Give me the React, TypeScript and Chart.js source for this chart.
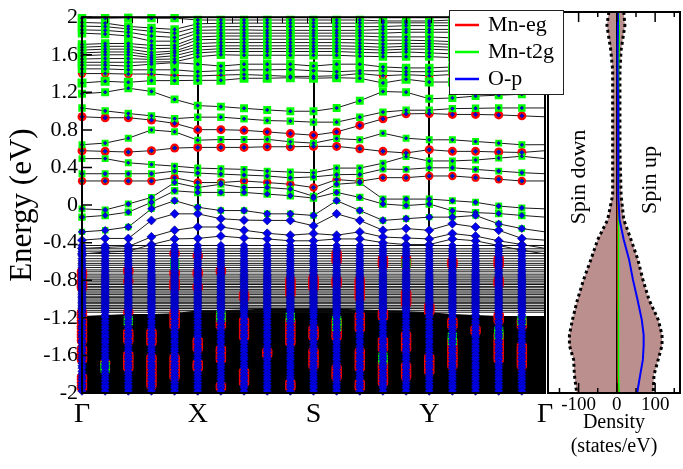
import React, { useEffect, useRef } from "react";
import { Chart, registerables } from "chart.js";

Chart.register(...registerables);

const SERIF = '"Liberation Serif", "Times New Roman", "DejaVu Serif", serif';
Chart.defaults.font.family = SERIF;
Chart.defaults.color = "#000";

const RED = "#ff0000";
const GREEN = "#00ff00";
const BLUE = "#0000ff";
const DOS_FILL = "rgb(188,143,143)";

// k-path Γ–X–S–Y–Γ sampled at 21 k-points, high-symmetry points every 5th
const kLabels = ["Γ", "X", "S", "Y", "Γ"];
const symK = [0, 5, 10, 15, 20];
const kPoints = [0, 1, 2, 3, 4, 5, 6, 7, 8, 9, 10, 11, 12, 13, 14, 15, 16, 17, 18, 19, 20];
// orbital projections exist for the first 20 k-points
const projK = [0, 1, 2, 3, 4, 5, 6, 7, 8, 9, 10, 11, 12, 13, 14, 15, 16, 17, 18, 19];

// dispersive bands (eV):   Γ→X          |   X→S          |   S→Y          |   Y→Γ          | Γ
const bands: number[][] = [
  [1.99, 1.99, 1.995, 1.99, 1.99, 1.97, 1.97, 1.97, 1.97, 1.97, 1.97, 1.97, 1.97, 1.96, 1.96, 1.96, 1.97, 1.98, 1.99, 1.99, 1.99],
  [1.944, 1.937, 1.902, 1.885, 1.87, 1.93, 1.935, 1.937, 1.937, 1.937, 1.937, 1.937, 1.937, 1.94, 1.94, 1.94, 1.94, 1.94, 1.945, 1.945, 1.944],
  [1.905, 1.9, 1.875, 1.85, 1.83, 1.895, 1.9, 1.9, 1.9, 1.9, 1.9, 1.9, 1.9, 1.9, 1.91, 1.91, 1.91, 1.9, 1.9, 1.905, 1.905],
  [1.865, 1.86, 1.84, 1.8, 1.785, 1.86, 1.865, 1.865, 1.86, 1.86, 1.86, 1.86, 1.86, 1.87, 1.87, 1.87, 1.87, 1.87, 1.865, 1.865, 1.865],
  [1.83, 1.82, 1.8, 1.745, 1.745, 1.83, 1.83, 1.83, 1.83, 1.83, 1.83, 1.83, 1.83, 1.83, 1.84, 1.84, 1.84, 1.84, 1.83, 1.83, 1.83],
  [1.71, 1.72, 1.72, 1.7, 1.7, 1.79, 1.8, 1.8, 1.8, 1.8, 1.8, 1.8, 1.8, 1.79, 1.79, 1.79, 1.78, 1.77, 1.75, 1.73, 1.71],
  [1.68, 1.69, 1.69, 1.665, 1.67, 1.76, 1.765, 1.765, 1.765, 1.765, 1.765, 1.765, 1.76, 1.755, 1.755, 1.75, 1.74, 1.73, 1.715, 1.7, 1.68],
  [1.65, 1.66, 1.66, 1.625, 1.64, 1.72, 1.73, 1.73, 1.73, 1.73, 1.73, 1.73, 1.725, 1.715, 1.72, 1.72, 1.71, 1.7, 1.68, 1.67, 1.65],
  [1.62, 1.63, 1.63, 1.595, 1.62, 1.685, 1.695, 1.695, 1.695, 1.695, 1.695, 1.695, 1.69, 1.68, 1.69, 1.69, 1.68, 1.67, 1.65, 1.64, 1.62],
  [1.59, 1.6, 1.6, 1.57, 1.59, 1.65, 1.665, 1.665, 1.665, 1.665, 1.665, 1.665, 1.66, 1.65, 1.66, 1.66, 1.65, 1.64, 1.62, 1.61, 1.59],
  [1.555, 1.56, 1.56, 1.55, 1.555, 1.62, 1.635, 1.635, 1.635, 1.635, 1.635, 1.635, 1.625, 1.62, 1.63, 1.62, 1.61, 1.6, 1.58, 1.57, 1.555],
  [1.52, 1.52, 1.52, 1.525, 1.525, 1.58, 1.6, 1.595, 1.595, 1.595, 1.595, 1.595, 1.585, 1.58, 1.58, 1.58, 1.57, 1.56, 1.54, 1.53, 1.52],
  [1.49, 1.49, 1.48, 1.5, 1.517, 1.5, 1.48, 1.5, 1.5, 1.5, 1.48, 1.5, 1.5, 1.47, 1.46, 1.46, 1.47, 1.48, 1.48, 1.49, 1.49],
  [1.45, 1.45, 1.44, 1.44, 1.44, 1.42, 1.43, 1.44, 1.44, 1.443, 1.43, 1.42, 1.43, 1.43, 1.42, 1.42, 1.43, 1.44, 1.44, 1.45, 1.45],
  [1.4, 1.4, 1.395, 1.395, 1.38, 1.374, 1.384, 1.39, 1.38, 1.37, 1.37, 1.377, 1.4, 1.377, 1.388, 1.377, 1.39, 1.4, 1.4, 1.4, 1.4],
  [1.3, 1.318, 1.307, 1.325, 1.325, 1.328, 1.328, 1.35, 1.35, 1.356, 1.35, 1.356, 1.35, 1.3, 1.34, 1.31, 1.31, 1.31, 1.3, 1.3, 1.3],
  [1.185, 1.202, 1.244, 1.21, 1.125, 1.059, 1.048, 1.03, 1.013, 0.999, 0.999, 1.034, 1.111, 1.209, 1.202, 1.132, 1.14, 1.16, 1.17, 1.18, 1.185],
  [1.034, 1.003, 0.975, 0.95, 0.92, 0.936, 0.936, 0.918, 0.9, 0.894, 0.883, 0.883, 0.936, 0.99, 1.01, 1.01, 1.027, 1.03, 1.034, 1.034, 1.034],
  [0.94, 0.93, 0.93, 0.905, 0.87, 0.803, 0.803, 0.796, 0.779, 0.761, 0.744, 0.779, 0.848, 0.918, 0.971, 0.975, 0.965, 0.965, 0.96, 0.95, 0.94],
  [0.643, 0.66, 0.712, 0.8, 0.78, 0.691, 0.698, 0.698, 0.7, 0.674, 0.66, 0.708, 0.695, 0.765, 0.712, 0.695, 0.695, 0.677, 0.66, 0.642, 0.643],
  [0.579, 0.572, 0.565, 0.579, 0.607, 0.614, 0.614, 0.614, 0.621, 0.621, 0.625, 0.625, 0.6, 0.572, 0.555, 0.59, 0.572, 0.572, 0.565, 0.56, 0.579],
  [0.495, 0.495, 0.45, 0.432, 0.415, 0.394, 0.387, 0.38, 0.362, 0.352, 0.345, 0.394, 0.394, 0.446, 0.516, 0.47, 0.47, 0.48, 0.5, 0.52, 0.495],
  [0.334, 0.334, 0.334, 0.334, 0.362, 0.341, 0.33, 0.32, 0.31, 0.29, 0.3, 0.324, 0.327, 0.383, 0.38, 0.397, 0.397, 0.38, 0.362, 0.345, 0.334],
  [0.257, 0.257, 0.257, 0.257, 0.292, 0.24, 0.24, 0.257, 0.24, 0.222, 0.187, 0.272, 0.254, 0.292, 0.292, 0.31, 0.31, 0.292, 0.275, 0.257, 0.257],
  [-0.04, -0.051, 0.012, 0.082, 0.24, 0.187, 0.222, 0.187, 0.187, 0.17, 0.095, 0.222, 0.24, 0.064, 0.064, 0.064, 0.047, 0.03, -0.01, -0.03, -0.04],
  [-0.128, -0.11, -0.075, 0.03, 0.152, 0.135, 0.135, 0.135, 0.117, 0.1, 0.075, 0.135, 0.082, 0.012, -0.005, 0.012, -0.06, -0.08, -0.09, -0.11, -0.128],
  [-0.285, -0.268, -0.233, -0.04, 0.047, -0.023, -0.058, -0.058, -0.093, -0.093, -0.11, 0.047, -0.058, -0.163, -0.145, -0.128, -0.128, -0.11, -0.2, -0.25, -0.285],
  [-0.373, -0.355, -0.355, -0.163, -0.093, -0.093, -0.145, -0.16, -0.163, -0.163, -0.22, -0.093, -0.163, -0.268, -0.25, -0.268, -0.198, -0.233, -0.268, -0.355, -0.373],
  [-0.46, -0.45, -0.44, -0.338, -0.268, -0.233, -0.233, -0.268, -0.3, -0.32, -0.303, -0.32, -0.285, -0.34, -0.35, -0.36, -0.303, -0.33, -0.38, -0.42, -0.46],
  [-0.52, -0.5, -0.49, -0.42, -0.36, -0.355, -0.33, -0.35, -0.36, -0.38, -0.38, -0.36, -0.36, -0.4, -0.42, -0.42, -0.36, -0.38, -0.43, -0.48, -0.52],
];

// orbital weight of each band above (0..1)
const bandEg = [0.5, 0, 0, 0, 0, 0.3, 0, 0, 0, 0, 0, 0, 0.3, 0, 0.7, 0.2, 0, 0, 0.75, 0.35, 0.75, 0.25, 0.45, 0.7, 0, 0, 0, 0.2, 0, 0];
const bandT2g = [0.85, 0.85, 0.85, 0.85, 0.85, 0.85, 0.85, 0.85, 0.85, 0.85, 0.85, 0.85, 0.85, 0.85, 0.45, 0.9, 0.8, 0.75, 0.2, 0.7, 0.35, 0.7, 0.7, 0.35, 0.7, 0.75, 0.65, 0.35, 0.2, 0.2];
const bandP = [0.4, 0.4, 0.4, 0.4, 0.4, 0.4, 0.4, 0.4, 0.4, 0.4, 0.4, 0.4, 0.4, 0.4, 0.4, 0.4, 0.4, 0.4, 0.5, 0.4, 0.5, 0.4, 0.5, 0.5, 0.6, 0.65, 0.85, 1, 1, 1];

// nearly flat O-p levels between −0.4 and −1.15 eV
const denseLevels = [
  -0.43, -0.465, -0.49, -0.515, -0.54, -0.57, -0.595, -0.62, -0.64, -0.665, -0.69, -0.71,
  -0.735, -0.755, -0.775, -0.795, -0.81, -0.83, -0.845, -0.865, -0.88, -0.9, -0.915, -0.935,
  -0.95, -0.97, -0.985, -1.0, -1.02, -1.035, -1.05, -1.07, -1.085, -1.1, -1.12, -1.14,
];
// upper edge of the continuous band manifold below −1.1 eV
const manifoldTop = [-1.18, -1.17, -1.16, -1.16, -1.15, -1.12, -1.12, -1.11, -1.1, -1.1, -1.1, -1.1, -1.11, -1.12, -1.13, -1.14, -1.16, -1.17, -1.18, -1.18, -1.18];
// projected levels inside the manifold
const manifoldLevels = [
  -1.17, -1.195, -1.23, -1.255, -1.29, -1.315, -1.35, -1.38, -1.405, -1.44, -1.465, -1.5, -1.53, -1.555,
  -1.59, -1.62, -1.645, -1.68, -1.71, -1.735, -1.77, -1.8, -1.83, -1.855, -1.89, -1.92, -1.945, -1.98,
];
// Mn-eg weight in the manifold: [k-point, upper E, lower E]
const egSpots = [
  [0, -0.71, -0.76], [0, -0.81, -0.88], [0, -1.13, -1.44], [0, -1.51, -1.65], [0, -1.83, -1.95],
  [1, -1.65, -1.7],
  [2, -0.67, -0.71], [2, -0.8, -0.82], [2, -1.13, -1.16], [2, -1.34, -1.44], [2, -1.58, -1.76],
  [3, -1.34, -1.48], [3, -1.62, -1.93],
  [4, -0.5, -0.53], [4, -0.71, -0.74], [4, -0.81, -0.88], [4, -1.13, -1.3], [4, -1.62, -1.83],
  [5, -0.53, -0.55], [5, -0.71, -0.74], [5, -0.85, -0.88], [5, -1.44, -1.55], [5, -1.65, -1.76],
  [6, -0.69, -0.73], [6, -1.16, -1.3], [6, -1.51, -1.65], [6, -1.9, -1.97],
  [7, -0.95, -0.99], [7, -1.2, -1.41], [7, -1.76, -1.9],
  [8, -1.55, -1.6],
  [9, -0.78, -0.95], [9, -1.2, -1.48], [9, -1.86, -1.97],
  [10, -0.76, -0.88], [10, -1.3, -1.41], [10, -1.55, -1.72],
  [11, -0.5, -0.6], [11, -0.78, -0.85], [11, -1.2, -1.41], [11, -1.72, -1.83],
  [12, -0.78, -0.99], [12, -1.16, -1.34], [12, -1.55, -1.76], [12, -1.86, -1.97],
  [13, -0.57, -0.64], [13, -1.13, -1.2], [13, -1.41, -1.55], [13, -1.65, -1.9],
  [14, -0.57, -0.64], [14, -0.92, -1.06], [14, -1.37, -1.55], [14, -1.69, -1.83],
  [15, -1.06, -1.16], [15, -1.62, -1.79],
  [16, -0.59, -0.64], [16, -1.2, -1.3], [16, -1.44, -1.72],
  [17, -1.3, -1.35],
  [18, -0.57, -0.64], [18, -0.78, -0.85], [18, -1.16, -1.23], [18, -1.37, -1.65],
  [19, -1.23, -1.3], [19, -1.48, -1.72],
];
// Mn-t2g weight in the manifold
const t2gSpots = [
  [1, -1.7, -1.75], [2, -1.2, -1.25], [4, -0.62, -0.64], [6, -1.16, -1.2], [9, -1.18, -1.22],
  [11, -1.2, -1.3], [13, -1.6, -1.65], [14, -0.6, -0.62], [16, -1.4, -1.45], [18, -1.35, -1.4], [19, -1.2, -1.25],
];

const legendItems = [
  { label: "Mn-eg", color: RED },
  { label: "Mn-t2g", color: GREEN },
  { label: "O-p", color: BLUE },
];

// density of states (states/eV) on an energy grid
const dosEnergy = [2.0, 1.86, 1.6, 1.39, 1.08, 0.55, 0.08, -0.18, -0.39, -0.6, -0.81, -1.02, -1.23, -1.39, -1.5, -1.65, -1.81, -2.0];
const dosUp = [18, 21, 11, 8, 8, 8, 11, 18, 37, 55, 68, 84, 108, 118, 118, 108, 97, 95];
const dosDown = [-21, -26, -16, -11, -11, -11, -11, -24, -50, -68, -87, -103, -116, -124, -124, -113, -111, -105];
const dosOp = [3, 3, 2, 2, 3, 3, 4, 7, 18, 32, 42, 54, 65, 70, 70, 68, 61, 53];
const dosT2g = [5, 6, 6, 4, 3, 3, 4, 4, 4, 4, 4, 4, 5, 5, 5, 5, 5, 6];
const dosEg = [3, 4, 3, 2, 2, 2, 2, 2, 2, 2, 2, 2, 3, 3, 3, 3, 3, 3];
const dosTicks = [-100, 0, 100];
const dosMinorTicks = [-150, -50, 50, 150];

const TOP_TICK_STEP = 1.0776;

function bandConfig(): any {
  const datasets: any[] = [];
  datasets.push({
    data: kPoints.map((k) => ({ x: k, y: manifoldTop[k] })),
    borderWidth: 0,
    pointRadius: 0,
    fill: "start",
    backgroundColor: "#000",
    order: 100,
  });
  denseLevels.forEach((e) =>
    datasets.push({
      data: [{ x: kPoints[0], y: e }, { x: kPoints[kPoints.length - 1], y: e }],
      borderColor: "#111",
      borderWidth: 1,
      pointRadius: 0,
      fill: false,
      order: 90,
    })
  );
  bands.forEach((b) =>
    datasets.push({
      data: kPoints.map((k) => ({ x: k, y: b[k] })),
      borderColor: "#1a1a1a",
      borderWidth: 1,
      pointRadius: 0,
      fill: false,
      order: 80,
    })
  );

  const egPts: any[] = [];
  const t2gPts: any[] = [];
  const pPts: any[] = [];
  bands.forEach((b, i) =>
    projK.forEach((k) => {
      if (bandEg[i] > 0) egPts.push({ x: k, y: b[k], r: 6 * bandEg[i] });
      if (bandT2g[i] > 0) t2gPts.push({ x: k, y: b[k], r: 7 * bandT2g[i] });
      if (bandP[i] > 0) pPts.push({ x: k, y: b[k], r: 4.5 * bandP[i] });
    })
  );
  const levels = [...denseLevels, ...manifoldLevels];
  projK.forEach((k) => levels.forEach((e) => pPts.push({ x: k, y: e, r: 4.2 })));
  egSpots.forEach(([k, hi, lo]) =>
    levels.forEach((e) => {
      if (e <= hi && e >= lo) egPts.push({ x: k, y: e, r: 5.3 });
    })
  );
  t2gSpots.forEach(([k, hi, lo]) =>
    levels.forEach((e) => {
      if (e <= hi && e >= lo) t2gPts.push({ x: k, y: e, r: 6.5 });
    })
  );

  const markerClip = { left: 7, right: 0, top: 4, bottom: 3 };
  const radius = (c: any) => (c.raw ? c.raw.r : 0);
  datasets.push({
    data: egPts, showLine: false, pointStyle: "circle", pointRadius: radius,
    pointBackgroundColor: RED, pointBorderWidth: 0, clip: markerClip, order: 30,
  });
  datasets.push({
    data: t2gPts, showLine: false, pointStyle: "rect", pointRadius: radius,
    pointBackgroundColor: GREEN, pointBorderWidth: 0, clip: markerClip, order: 20,
  });
  datasets.push({
    data: pPts, showLine: false, pointStyle: "rectRot", pointRadius: radius,
    pointBackgroundColor: "#0000ee", pointBorderColor: "#000080", pointBorderWidth: 0.6,
    clip: markerClip, order: 10,
  });

  const decor = {
    id: "bandDecor",
    afterDatasetsDraw(chart: any) {
      const { ctx, chartArea: a } = chart;
      const xs = chart.scales.x;
      const ys = chart.scales.y;
      ctx.save();
      ctx.strokeStyle = "#000";
      ctx.lineWidth = 1.5;
      ctx.beginPath();
      ys.ticks.forEach((t: any) => {
        const y = ys.getPixelForValue(t.value);
        ctx.moveTo(a.left, y);
        ctx.lineTo(a.left + 10, y);
      });
      ctx.stroke();
      ctx.lineWidth = 1;
      ctx.beginPath();
      for (let v = xs.min; v <= xs.max + 1e-6; v += TOP_TICK_STEP) {
        const x = Math.round(xs.getPixelForValue(v)) + 0.5;
        ctx.moveTo(x, a.top);
        ctx.lineTo(x, a.top + 6);
      }
      ctx.stroke();
      ctx.lineWidth = 2;
      ctx.strokeRect(a.left, a.top, a.right - a.left, a.bottom - a.top);
      ctx.restore();
    },
    afterDraw(chart: any) {
      const { ctx } = chart;
      ctx.save();
      ctx.fillStyle = "#fff";
      ctx.fillRect(449, 10, 114, 84);
      ctx.strokeStyle = "#222";
      ctx.lineWidth = 1;
      ctx.strokeRect(449.5, 10.5, 114, 84);
      ctx.font = `22px ${SERIF}`;
      ctx.textBaseline = "middle";
      ctx.textAlign = "left";
      legendItems.forEach((it, i) => {
        const y = 25 + i * 27;
        ctx.strokeStyle = it.color;
        ctx.lineWidth = 2.5;
        ctx.beginPath();
        ctx.moveTo(455, y);
        ctx.lineTo(479, y);
        ctx.stroke();
        ctx.fillStyle = "#000";
        ctx.fillText(it.label, 488, y);
      });
      ctx.restore();
    },
  };

  return {
    type: "line",
    data: { datasets },
    options: {
      responsive: false,
      animation: false,
      devicePixelRatio: 1,
      events: [],
      layout: { padding: { left: 0, top: 12, right: 138, bottom: 0 }, autoPadding: false },
      plugins: { legend: { display: false }, tooltip: { enabled: false } },
      scales: {
        x: {
          type: "linear",
          min: 0,
          max: 20,
          afterBuildTicks: (s: any) => {
            s.ticks = symK.map((v) => ({ value: v }));
          },
          ticks: {
            autoSkip: false,
            maxRotation: 0,
            padding: 5,
            font: { size: 28, family: SERIF },
            color: "#000",
            callback: (_v: any, i: number) => kLabels[i],
          },
          grid: {
            drawTicks: false,
            lineWidth: 2,
            color: (c: any) =>
              c.tick && c.tick.value > 0 && c.tick.value < 20 ? "#000" : "rgba(0,0,0,0)",
          },
          border: { display: false },
          afterFit: (s: any) => {
            s.height = 76;
          },
        },
        y: {
          type: "linear",
          min: -2,
          max: 2,
          ticks: {
            stepSize: 0.4,
            padding: 4,
            font: { size: 22, family: SERIF },
            color: "#000",
            callback: (v: any) => String(Number(Number(v).toFixed(1))),
          },
          grid: { display: false, drawTicks: false },
          border: { display: false },
          title: {
            display: true,
            text: "Energy (eV)",
            font: { size: 31, family: SERIF },
            color: "#000",
            padding: { top: 4, bottom: 0 },
          },
          afterFit: (s: any) => {
            s.width = 82;
          },
        },
      },
    },
    plugins: [decor],
  };
}

function dosConfig(): any {
  const pts = (vals: number[]) => dosEnergy.map((e, i) => ({ x: vals[i], y: e }));
  const outline = {
    borderColor: "#000",
    borderWidth: 3,
    borderDash: [3, 3],
    pointRadius: 0,
    fill: "origin",
    backgroundColor: DOS_FILL,
  };
  const datasets = [
    { ...outline, data: pts(dosUp), order: 20 },
    { ...outline, data: pts(dosDown), order: 21 },
    { data: [{ x: 0, y: 2 }, { x: 0, y: -2 }], borderColor: "#000", borderWidth: 1, pointRadius: 0, fill: false, order: 5 },
    { data: pts(dosEg), borderColor: RED, borderWidth: 1.5, pointRadius: 0, fill: false, order: 4 },
    { data: pts(dosT2g), borderColor: GREEN, borderWidth: 1.5, pointRadius: 0, fill: false, order: 3 },
    { data: pts(dosOp), borderColor: BLUE, borderWidth: 2, pointRadius: 0, fill: false, order: 2 },
  ];

  const decor = {
    id: "dosDecor",
    afterDatasetsDraw(chart: any) {
      const { ctx, chartArea: a } = chart;
      const xs = chart.scales.x;
      ctx.save();
      ctx.strokeStyle = "#000";
      ctx.lineWidth = 1.5;
      ctx.beginPath();
      const tick = (v: number, len: number) => {
        const x = xs.getPixelForValue(v);
        ctx.moveTo(x, a.bottom);
        ctx.lineTo(x, a.bottom - len);
        ctx.moveTo(x, a.top);
        ctx.lineTo(x, a.top + len);
      };
      dosTicks.forEach((v) => tick(v, 10));
      dosMinorTicks.forEach((v) => tick(v, 5));
      ctx.stroke();
      ctx.lineWidth = 2;
      ctx.strokeRect(a.left, a.top, a.right - a.left, a.bottom - a.top);
      ctx.fillStyle = "#000";
      ctx.font = `22px ${SERIF}`;
      ctx.textAlign = "center";
      ctx.textBaseline = "middle";
      const vtext = (t: string, x: number, y: number) => {
        ctx.save();
        ctx.translate(x, y);
        ctx.rotate(-Math.PI / 2);
        ctx.fillText(t, 0, 0);
        ctx.restore();
      };
      vtext("Spin down", 579, 177);
      vtext("Spin up", 650, 180);
      ctx.restore();
    },
  };

  return {
    type: "line",
    data: { datasets },
    options: {
      indexAxis: "y",
      responsive: false,
      animation: false,
      devicePixelRatio: 1,
      events: [],
      layout: { padding: { left: 548, top: 12, right: 3, bottom: 0 }, autoPadding: false },
      plugins: { legend: { display: false }, tooltip: { enabled: false } },
      scales: {
        x: {
          type: "linear",
          min: -180,
          max: 165,
          position: "bottom",
          afterBuildTicks: (s: any) => {
            s.ticks = dosTicks.map((v) => ({ value: v }));
          },
          ticks: { autoSkip: false, maxRotation: 0, padding: 1, font: { size: 19, family: SERIF }, color: "#000" },
          grid: { display: false, drawTicks: false },
          border: { display: false },
          title: {
            display: true,
            text: ["Density", "(states/eV)"],
            font: { size: 20, lineHeight: 1.2, family: SERIF },
            color: "#000",
            padding: { top: 0, bottom: 10 },
          },
          afterFit: (s: any) => {
            s.height = 76;
          },
        },
        y: { type: "linear", min: -2, max: 2, display: false },
      },
    },
    plugins: [decor],
  };
}

export default function App() {
  const bandRef = useRef<HTMLCanvasElement>(null);
  const dosRef = useRef<HTMLCanvasElement>(null);

  useEffect(() => {
    const dos = new Chart(dosRef.current as HTMLCanvasElement, dosConfig());
    const band = new Chart(bandRef.current as HTMLCanvasElement, bandConfig());
    return () => {
      band.destroy();
      dos.destroy();
    };
  }, []);

  const layer: React.CSSProperties = { position: "absolute", left: 0, top: 0 };
  return (
    <div style={{ position: "absolute", left: 0, top: 0, width: 683, height: 469, background: "#fff" }}>
      <canvas ref={dosRef} width={683} height={469} style={layer} />
      <canvas ref={bandRef} width={683} height={469} style={layer} />
    </div>
  );
}
